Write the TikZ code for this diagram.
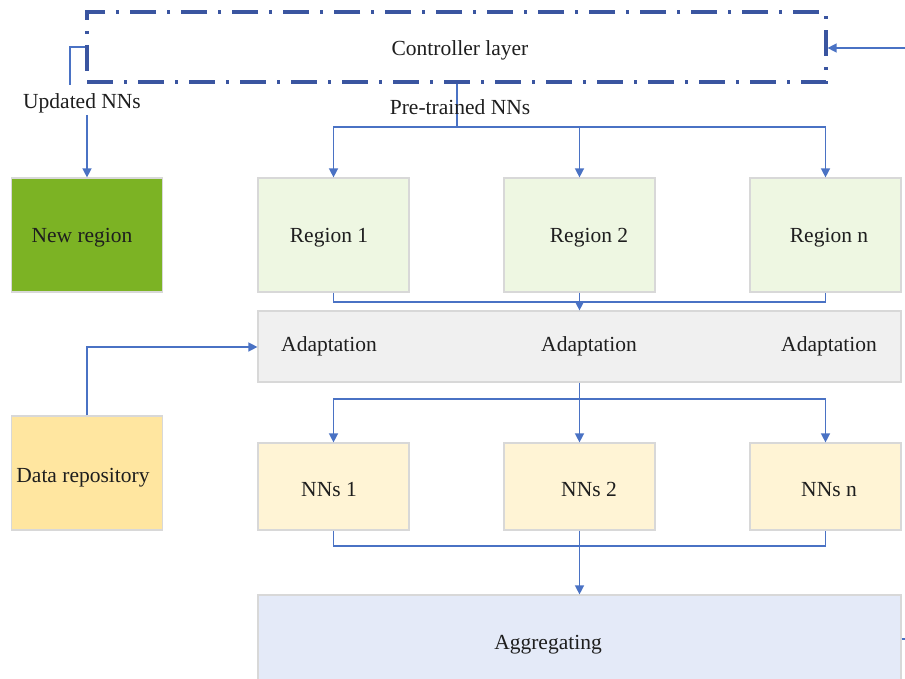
\documentclass[tikz,border=0pt]{standalone}
\usepackage{fontspec}
\setmainfont{Liberation Serif}
\usetikzlibrary{arrows.meta}

\definecolor{ctrlblue}{HTML}{3A55A0}
\definecolor{linkblue}{HTML}{4A72C4}
\definecolor{boxedge}{HTML}{D8D8D8}
\definecolor{newgreen}{HTML}{7CB324}
\definecolor{regfill}{HTML}{EEF7E2}
\definecolor{adaptfill}{HTML}{F0F0F0}
\definecolor{datafill}{HTML}{FFE6A0}
\definecolor{nnfill}{HTML}{FFF4D5}
\definecolor{aggfill}{HTML}{E4EAF8}
\definecolor{inkblack}{HTML}{1E1E1E}

\begin{document}
\begin{tikzpicture}[x=1pt,y=-1pt,
  font=\fontsize{21.5}{24}\selectfont, text=inkblack,
  box/.style={draw=boxedge, line width=1.2pt, inner sep=0pt, anchor=center},
  smallbox/.style={box, minimum width=151pt, minimum height=114pt},
  nnbox/.style={box, fill=nnfill, minimum width=151pt, minimum height=87pt},
  widebox/.style={box, minimum width=643pt},
  lbl/.style={inner sep=1pt, yshift=-2.5pt},
  conn/.style={draw=linkblue, line width=1.4pt},
  arr/.style={conn, -{Triangle[width=9pt,length=9pt]}},
  ctrlframe/.style={draw=ctrlblue, line width=3.2pt,
    dash pattern=on 26pt off 11pt on 3pt off 11pt}]

\clip (0,0) rectangle (905,679);
\fill[white] (0,0) rectangle (905,679);

% controller layer (dash-dotted frame)
\node[ctrlframe, minimum width=739pt, minimum height=70pt, inner sep=0pt]
  (ctrl) at (456.5,47) {};
\node[lbl] (ctrltxt) at (460,48) {Controller layer};

% boxes
\node[smallbox, fill=newgreen] (newreg) at (87,235) {};
\node[lbl] (newtxt) at (82,235) {New region};
\node[smallbox, fill=regfill] (reg1) at (333.5,235) {};
\node[smallbox, fill=regfill] (reg2) at (579.5,235) {};
\node[smallbox, fill=regfill] (regn) at (825.5,235) {};
\node[lbl] (reg1txt) at (329,235) {Region 1};
\node[lbl] (reg2txt) at (589,235) {Region 2};
\node[lbl] (regntxt) at (829,235) {Region n};

\node[widebox, fill=adaptfill, minimum height=71pt] (adapt) at (579.5,346.5) {};
\node[lbl] (ad1) at (329,344) {Adaptation};
\node[lbl] (ad2) at (589,344) {Adaptation};
\node[lbl] (ad3) at (829,344) {Adaptation};

\node[smallbox, fill=datafill] (data) at (87,473) {};
\node[lbl] (datatxt) at (83,475) {Data repository};

\node[nnbox] (nn1) at (333.5,486.5) {};
\node[nnbox] (nn2) at (579.5,486.5) {};
\node[nnbox] (nnn) at (825.5,486.5) {};
\node[lbl] (nn1txt) at (329,487) {NNs 1};
\node[lbl] (nn2txt) at (589,487) {NNs 2};
\node[lbl] (nnntxt) at (829,487) {NNs n};

\node[widebox, fill=aggfill, minimum height=110pt] (agg) at (579.5,650) {};
\node[lbl] (aggtxt) at (548,642) {Aggregating};

% updated networks returned to the new region
\node[lbl] (upd) at (82,101) {Updated NNs};
\coordinate (updend) at (70,85);
\draw[conn] (ctrl.west) -- (updend |- ctrl.west) -- (updend);
\draw[arr] (newreg.north |- 0,115) -- (newreg.north);

% external input to the controller
\coordinate (inR) at (905,48);
\draw[arr] (inR) -- (ctrl.east |- inR);

% pre-trained networks distributed to regions
\coordinate (pbus) at (457,127);
\draw[conn] (ctrl.south -| pbus) -- (pbus);
\draw[arr] (pbus) -| (reg1.north);
\draw[arr] (pbus) -| (reg2.north);
\draw[arr] (pbus) -| (regn.north);
\node[lbl] (pre) at (460,105) {Pre-trained NNs};

% regions into adaptation
\coordinate (rbus) at (579.5,302);
\draw[conn] (reg1.south) |- (rbus) -| (regn.south);
\draw[arr] (reg2.south) -- (adapt.north -| reg2.south);

% data repository into adaptation
\draw[arr] (data.north) |- (adapt.west |- 0,347);

% adaptation out to networks
\coordinate (abus) at (579.5,399);
\draw[conn] (adapt.south -| abus) -- (abus);
\draw[arr] (abus) -| (nn1.north);
\draw[arr] (abus) -- (nn2.north);
\draw[arr] (abus) -| (nnn.north);

% networks into aggregation
\coordinate (nbus) at (579.5,546);
\draw[conn] (nn1.south) |- (nbus) -| (nnn.south);
\draw[arr] (nn2.south) -- (agg.north -| nn2.south);

% outgoing stub on the aggregation box
\coordinate (aggout) at (905,639);
\draw[conn] (agg.east |- aggout) -- (aggout);
\end{tikzpicture}
\end{document}
